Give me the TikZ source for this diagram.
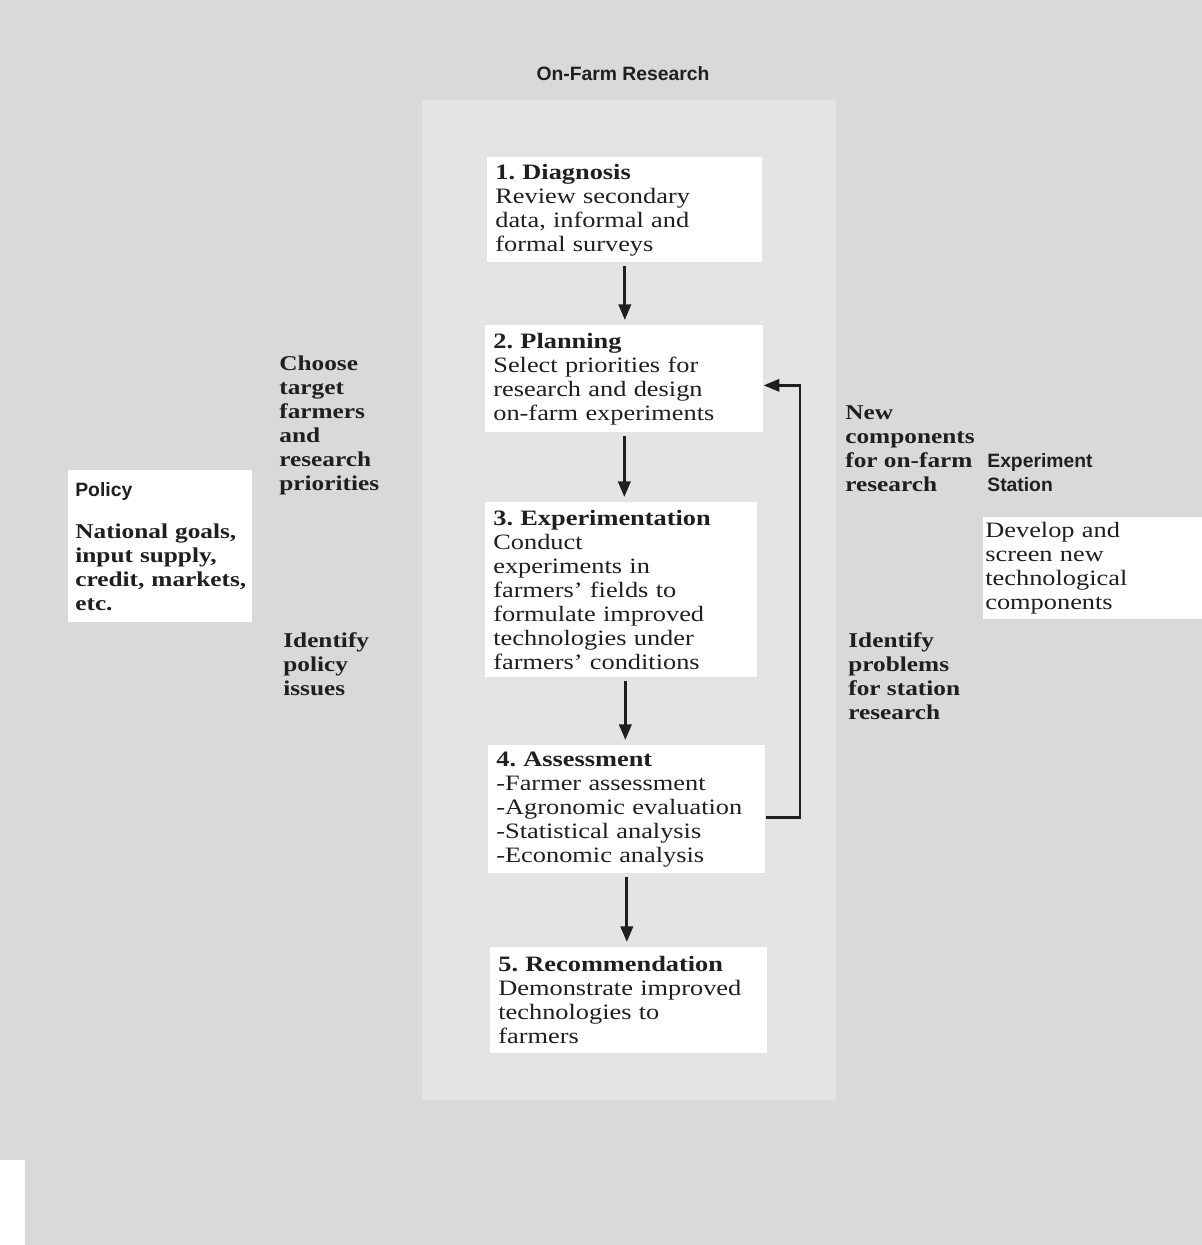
\documentclass[tikz,border=0pt]{standalone}
\usepackage{fontspec}
\setmainfont{Liberation Serif}[FakeStretch=1.2]
\newfontfamily\labelsans{Liberation Sans}
\usetikzlibrary{positioning}
\usetikzlibrary{calc}
\usetikzlibrary{arrows.meta}
\frenchspacing
\definecolor{scan-gray}{HTML}{D9D9D9}
\colorlet{page}{scan-gray}
\colorlet{column}{scan-gray!70!white}
\colorlet{ink}{black!88}
\newcommand{\stepfont}{\fontsize{12.5}{13.66}\selectfont}
\newcommand{\notefont}{\bfseries\fontsize{12}{13.66}\selectfont}
\newcommand{\sansfont}{\labelsans\bfseries\fontsize{11}{13.66}\selectfont}
\tikzset{
  stepbox/.style={fill=white, text=ink, anchor=north west, align=left,
    inner xsep=0.16cm, inner ysep=0.1cm, text width=#1, font=\stepfont},
  note/.style={text=ink, anchor=north west, align=left, inner sep=0pt, font=\notefont},
  sansnote/.style={text=ink, anchor=north west, align=left, inner sep=0pt, font=\sansfont},
  steparrow/.style={draw=ink, line width=1.8pt, -{Triangle[width=7pt,length=9pt]},
    shorten <=1.7pt, shorten >=2.8pt},
  backarrow/.style={draw=ink, line width=1.6pt, -{Triangle[width=7pt,length=9pt]}}
}
\begin{document}
\begin{tikzpicture}[x=0.02cm, y=-0.02cm]
\useasboundingbox (0,0) rectangle (1202,1245);
% scanned page
\fill[page] (0,0) rectangle (1202,1245);
\fill[column] (422,100) rectangle (836,1100);
\fill[white] (0,1160) rectangle (25,1245);
% title
\node[text=ink, font=\sansfont] (title) at (623,74) {On-Farm Research};
% the five steps
\node[stepbox=5.18cm, minimum height=2.1cm] (diag) at (487,157)
  {\textbf{1. Diagnosis}\\Review secondary\\data, informal and\\formal surveys};
\node[stepbox=5.24cm, minimum height=2.14cm] (plan) at (485,325)
  {\textbf{2. Planning}\\Select priorities for\\research and design\\on-farm experiments};
\node[stepbox=5.12cm, minimum height=3.5cm] (exper) at (485,502)
  {\textbf{3. Experimentation}\\Conduct\\experiments in\\farmers' fields to\\formulate improved\\technologies under\\farmers' conditions};
\node[stepbox=5.22cm, minimum height=2.56cm] (assess) at (488,745)
  {\textbf{4. Assessment}\\-Farmer assessment\\-Agronomic evaluation\\-Statistical analysis\\-Economic analysis};
\node[stepbox=5.22cm, minimum height=2.12cm] (recom) at (490,947)
  {\textbf{5. Recommendation}\\Demonstrate improved\\technologies to\\farmers};
% policy and station
\node[stepbox=3.4cm, inner xsep=0.14cm, minimum height=3.04cm, font=\notefont] (policy) at (68,470)
  {{\sansfont Policy}\\[0.36cm]National goals,\\input supply,\\\mbox{credit, markets,}\\etc.};
\node[stepbox=4.3cm, inner xsep=0.04cm, minimum height=2.02cm] (station) at (983,517)
  {Develop and\\screen new\\technological\\components};
\node[sansnote] (stationname) at (987,453) {Experiment\\Station};
% links
\node[note] (choose) at (279,356) {Choose\\target\\farmers\\and\\research\\priorities};
\node[note] (issues) at (283,632) {Identify\\policy\\issues};
\node[note] (newcomp) at (845,405) {New\\components\\for on-farm\\research};
\node[note] (problems) at (848,632) {Identify\\problems\\for station\\research};
% arrows
\draw[steparrow] (diag.south) -- (diag.south |- plan.north);
\draw[steparrow] (plan.south) -- (plan.south |- exper.north);
\draw[steparrow] (exper.south) ++(0.08cm,0) coordinate (exout) -- (exout |- assess.north);
\draw[steparrow] (assess.south) -- (assess.south |- recom.north);
\coordinate (bendx) at (800,600);
\draw[backarrow] ([yshift=-0.16cm]assess.east) -| (bendx) |- ([yshift=-0.13cm]plan.east);
\end{tikzpicture}
\end{document}
